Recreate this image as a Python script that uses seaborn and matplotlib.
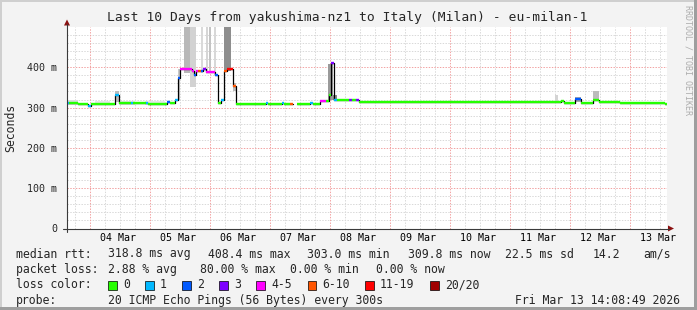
import numpy as np
import pandas as pd
import matplotlib
matplotlib.use("Agg")
import matplotlib.pyplot as plt
import matplotlib.transforms as mtransforms
from matplotlib.patches import Rectangle, Polygon
from matplotlib.lines import Line2D
import seaborn as sns

# ---------------- data ----------------
# time axis: hours since 04 Mar 00:00
t_begin_h = -9.2
t_end_h = 230.8

# median RTT step segments (start hour, median ms, loss-colour index)
seg_start_h = [-9.2, -8.4, -4.8, -0.8, 0.4, 10.0, 11.6, 16.4, 17.2, 22.4, 23.2,
               30.8, 32.0, 34.0, 35.2, 36.0, 40.8, 41.6, 42.4, 43.2, 44.4, 45.2,
               46.4, 50.0, 51.2, 52.4, 53.6, 54.8, 57.2, 58.4, 70.4, 71.2, 76.8,
               77.6, 80.0, 81.2, 82.8, 88.0, 89.2, 92.0, 94.4, 95.6, 96.4, 97.6,
               98.8, 103.6, 104.8, 106.4, 107.6, 113.2, 116.0, 117.2, 118.4,
               139.2, 140.8, 154.8, 155.6, 188.4, 189.6, 194.0, 196.4, 201.2,
               203.6, 212.0, 230.0]
seg_median_ms = [311, 311, 309, 305, 309, 331, 312, 311, 312, 311, 310,
                 315, 311, 319, 373, 397, 391, 381, 391, 390, 390, 395,
                 388, 381, 311, 319, 391, 395, 353, 310, 311, 310, 311,
                 310, 309, np.nan, 310, 311, 310, 316, 316, 331, 410, 319,
                 319, 318, 318, 318, 313, 314, 313, 315, 313,
                 315, 313, 315, 313, 316, 311, 321, 311, 319,
                 315, 312, 309]
seg_loss = [1, 0, 0, 1, 0, 1, 0, 1, 0, 1, 0,
            2, 0, 1, 2, 4, 4, 2, 4, 5, 2, 3,
            4, 2, 0, 1, 5, 6, 5, 0, 1, 0, 1,
            0, 5, 0, 0, 1, 0, 4, 0, 0, 3, 1,
            0, 3, 0, 3, 0, 0, 0, 0, 0,
            0, 0, 0, 0, 0, 0, 2, 0, 0,
            0, 0, 0]

# smoke (ping spread) blocks: start hour, end hour, low ms, high ms, grey shade
smoke_start_h = [-9.2, 2.0, 12.0, 22.0, 10.0, 35.2, 37.6, 40.0, 44.4, 46.4, 47.6,
                 49.6, 53.6, 57.2, 95.2, 97.2, 130.0, 186.0, 194.0, 201.2, 210.0]
smoke_end_h = [-4.8, 8.0, 18.0, 30.0, 11.6, 36.0, 40.0, 42.4, 45.2, 47.2, 48.4,
               50.4, 56.4, 58.4, 97.2, 98.8, 134.0, 187.2, 196.4, 203.6, 212.0]
smoke_lo_ms = [306, 306, 307, 307, 315, 320, 385, 350, 385, 385, 385,
               380, 390, 340, 318, 318, 311, 313, 315, 316, 311]
smoke_hi_ms = [318, 316, 316, 316, 340, 395, 520, 520, 520, 520, 520,
               520, 520, 360, 408, 332, 317, 331, 327, 340, 317]
smoke_shade = ["#dcdcdc", "#e6e6e6", "#e6e6e6", "#e6e6e6", "#bdbdbd", "#c8c8c8",
               "#b8b8b8", "#d2d2d2", "#dadada", "#d6d6d6", "#c4c4c4",
               "#d8d8d8", "#8e8e8e", "#bcbcbc", "#9a9a9a", "#8a8a8a", "#e2e2e2",
               "#d4d4d4", "#aaaaaa", "#bcbcbc", "#e2e2e2"]

loss_labels = ["0", "1", "2", "3", "4-5", "6-10", "11-19", "20/20"]
loss_colors = ["#26ff00", "#00b8ff", "#0059ff", "#7e00ff", "#ff00ff",
               "#ff5500", "#ff0000", "#a10000"]

day_labels = ["04 Mar", "05 Mar", "06 Mar", "07 Mar", "08 Mar",
              "09 Mar", "10 Mar", "11 Mar", "12 Mar", "13 Mar"]
y_ticks = [0, 100, 200, 300, 400]
y_tick_labels = ["0", "100 m", "200 m", "300 m", "400 m"]

title = "Last 10 Days from yakushima-nz1 to Italy (Milan) - eu-milan-1"
rtt_stats = ["318.8 ms avg", "408.4 ms max", "303.0 ms min", "309.8 ms now",
             "22.5 ms sd", "14.2", "am/s"]
loss_stats = ["2.88 % avg", "80.00 % max", "0.00 % min", "0.00 % now"]
probe_text = "20 ICMP Echo Pings (56 Bytes) every 300s"
stamp_text = "Fri Mar 13 14:08:49 2026"

# ---------------- figure ----------------
sns.set_style("white")
plt.rcParams["font.family"] = ["DejaVu Sans Mono"]
W, H = 697, 310
fig = plt.figure(figsize=(W / 100, H / 100), dpi=100, facecolor="#f3f3f3")


def fx(x):
    return x / W


def fy(y):
    return (H - y) / H


ax = fig.add_axes([fx(67), fy(228.5), fx(600), (228.5 - 27) / H])
ax.set_facecolor("white")
ax.set_xlim(t_begin_h, t_end_h)
ax.set_ylim(0, 500)

# grid
minor_col = "#d9d9d9"
major_col = "#f2a3a3"
dash = (0, (1.4, 1.4))
for v in np.arange(20, 500, 20):
    if v % 100:
        ax.axhline(v, color=minor_col, lw=0.72, ls=dash, zorder=0)
for v in np.arange(-6, t_end_h, 6):
    if v % 24:
        ax.axvline(v, color=minor_col, lw=0.72, ls=dash, zorder=0)
for v in [100, 200, 300, 400]:
    ax.axhline(v, color=major_col, lw=0.72, ls=dash, zorder=0.5)
for v in np.arange(0, t_end_h, 24):
    ax.axvline(v, color=major_col, lw=0.72, ls=dash, zorder=0.5)

# smoke
for s, e, lo, hi, c in zip(smoke_start_h, smoke_end_h, smoke_lo_ms, smoke_hi_ms, smoke_shade):
    ax.fill_between([s, e], [lo, lo], [hi, hi], color=c, lw=0, zorder=1)

# build median data frames
n = len(seg_start_h)
ends = seg_start_h[1:] + [t_end_h]
rows, step_rows = [], []
run = 0
for i in range(n):
    m = seg_median_ms[i]
    if np.isnan(m):
        run += 1
        continue
    rows.append(dict(seg=i, t=seg_start_h[i], ms=m, loss=loss_labels[seg_loss[i]]))
    rows.append(dict(seg=i, t=ends[i], ms=m, loss=loss_labels[seg_loss[i]]))
    step_rows.append(dict(run=run, t=seg_start_h[i], ms=m))
    nxt = seg_median_ms[i + 1] if i + 1 < n else np.nan
    if i + 1 >= n or np.isnan(nxt):
        step_rows.append(dict(run=run, t=ends[i], ms=m))
df_seg = pd.DataFrame(rows)
df_step = pd.DataFrame(step_rows)

sns.lineplot(data=df_step, x="t", y="ms", units="run", estimator=None,
             color="black", lw=0.9, drawstyle="steps-post", sort=False,
             legend=False, ax=ax, zorder=2)
sns.lineplot(data=df_seg, x="t", y="ms", hue="loss", units="seg", estimator=None,
             palette=dict(zip(loss_labels, loss_colors)), hue_order=loss_labels,
             lw=1.7, sort=False, legend=False, ax=ax, zorder=3,
             solid_capstyle="butt")

# axes styling
for sp in ["top", "right", "left", "bottom"]:
    ax.spines[sp].set_visible(False)
ax.set_xlabel("")
ax.set_ylabel("")
ax.set_xticks([])
ax.set_yticks(y_ticks)
ax.set_yticklabels(y_tick_labels, fontsize=7.2)
ax.tick_params(axis="y", length=0, pad=7)

# axis lines and arrows
axis_col = "#3a3a3a"
arrow_col = "#8b1010"
fig.add_artist(Line2D([fx(67), fx(67)], [fy(232), fy(24)], color=axis_col, lw=0.8))
fig.add_artist(Line2D([fx(63), fx(669)], [fy(228.5), fy(228.5)], color=axis_col, lw=0.8))
fig.add_artist(Polygon([[fx(64), fy(25.5)], [fx(70), fy(25.5)], [fx(67), fy(19.5)]],
                       closed=True, color=arrow_col, lw=0))
fig.add_artist(Polygon([[fx(668), fy(225.5)], [fx(668), fy(231.5)], [fx(674), fy(228.5)]],
                       closed=True, color=arrow_col, lw=0))

# date labels at mid-day
trans = mtransforms.blended_transform_factory(ax.transData, fig.transFigure)
for k, lab in enumerate(day_labels):
    ax.text(24 * k + 11, fy(238), lab, transform=trans, ha="center", va="center",
            fontsize=7.2, color="black")

# title & y label
fig.text(fx(347.5), fy(18), title, ha="center", va="center", fontsize=9.4)
fig.text(fx(11), fy(128), "Seconds", rotation=90, ha="center", va="center", fontsize=8.3)
fig.text(fx(688), fy(5), "RRDTOOL / TOBI OETIKER", rotation=-90, ha="center", va="top",
         fontsize=6.0, color="#adadad")

# legend rows
lf = 8.3
r1, r2, r3, r4 = 254, 269.5, 285, 300.5
fig.text(fx(16), fy(r1), "median rtt:", ha="left", va="center", fontsize=lf)
for x, s in zip([107.5, 207.5, 306.7, 407.6, 505, 593, 643], rtt_stats):
    fig.text(fx(x), fy(r1), s, ha="left", va="center", fontsize=lf)
fig.text(fx(16), fy(r2), "packet loss:", ha="left", va="center", fontsize=lf)
for x, s in zip([107.5, 199.5, 290.0, 376.0], loss_stats):
    fig.text(fx(x), fy(r2), s, ha="left", va="center", fontsize=lf)
fig.text(fx(16), fy(r3), "loss color:", ha="left", va="center", fontsize=lf)
box_x = [108, 145, 182, 219, 256, 307.5, 365, 430]
for bx, c, lab in zip(box_x, loss_colors, loss_labels):
    fig.add_artist(Rectangle((fx(bx), fy(r3 + 4.5)), fx(8.5), 9 / H,
                             facecolor=c, edgecolor="black", lw=0.5))
    fig.text(fx(bx + 15), fy(r3), lab, ha="left", va="center", fontsize=lf)
fig.text(fx(16), fy(r4), "probe:", ha="left", va="center", fontsize=lf)
fig.text(fx(107.5), fy(r4), probe_text, ha="left", va="center", fontsize=lf)
fig.text(fx(680), fy(r4), stamp_text, ha="right", va="center", fontsize=lf)

# 3D frame
fig.add_artist(Rectangle((0, fy(2)), fx(697), 2 / H, color="#cfcfcf", lw=0))
fig.add_artist(Rectangle((0, 0), fx(2), 1, color="#cfcfcf", lw=0))
fig.add_artist(Rectangle((fx(694), 0), fx(3), 1, color="#9e9e9e", lw=0))
fig.add_artist(Rectangle((0, 0), 1, 3 / H, color="#9e9e9e", lw=0))

fig.savefig("out.png", dpi=100, facecolor=fig.get_facecolor())
